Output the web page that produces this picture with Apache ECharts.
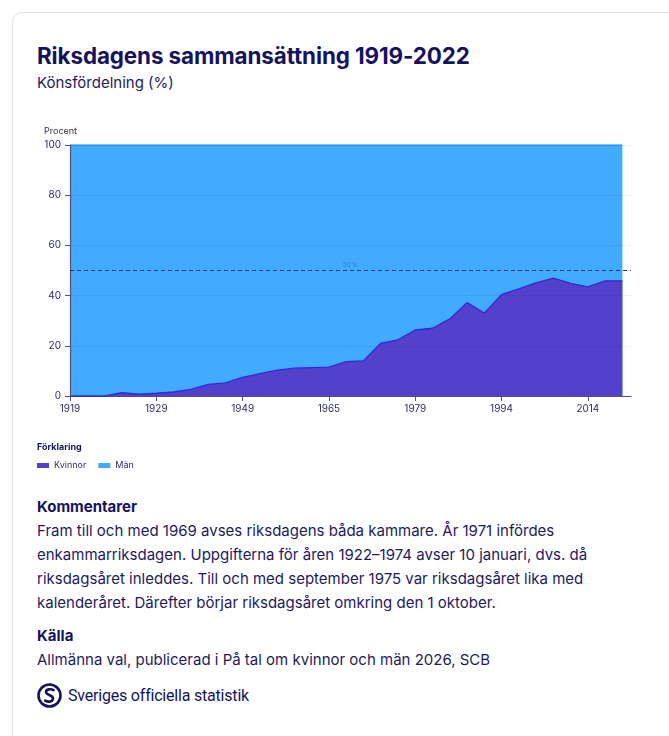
<!DOCTYPE html>
<html>
<head>
<meta charset="utf-8">
<script src="https://cdn.jsdelivr.net/npm/echarts@6/dist/echarts.min.js"></script>
<style>
  html, body { margin:0; padding:0; background:#fff; width:669px; height:736px; overflow:hidden; font-family: Inter, "Noto Sans", sans-serif; color:#1d1b5c; }
  #card { position:absolute; left:12px; top:12px; width:700px; height:760px; border:1px solid #e3e3e8; border-radius:10px; box-sizing:border-box; }
  .abs { position:absolute; white-space:nowrap; }
  #title { left:37px; top:42px; font-size:22.4px; font-weight:700; color:#15135e; letter-spacing:-0.1px; }
  #sub { left:37px; top:73px; font-size:15px; color:#1d1b5c; }
  #chart { position:absolute; left:0; top:110px; width:669px; height:370px; }
  .h { font-size:15px; font-weight:700; color:#15135e; }
  .p { font-size:15px; line-height:24px; color:#1d1b5c; }
  #logo { left:37px; top:683px; display:flex; align-items:center; }
  #logo span { font-family: Roboto, sans-serif; font-size:16px; color:#15135e; margin-left:6px; letter-spacing:-0.2px; }
</style>
</head>
<body>
<div id="card"></div>
<div class="abs" id="title">Riksdagens sammansättning 1919-2022</div>
<div class="abs" id="sub">Könsfördelning (%)</div>
<div id="chart"></div>
<div class="abs h" style="left:37px;top:497px;">Kommentarer</div>
<div class="abs p" style="left:37px;top:519px;">Fram till och med 1969 avses riksdagens båda kammare. År 1971 infördes<br>enkammarriksdagen. Uppgifterna för åren 1922–1974 avser 10 januari, dvs. då<br>riksdagsåret inleddes. Till och med september 1975 var riksdagsåret lika med<br>kalenderåret. Därefter börjar riksdagsåret omkring den 1 oktober.</div>
<div class="abs h" style="left:37px;top:626px;">Källa</div>
<div class="abs p" style="left:37px;top:648px;">Allmänna val, publicerad i På tal om kvinnor och män 2026, SCB</div>
<div class="abs" id="logo">
  <svg width="25" height="25" viewBox="0 0 25 25">
    <circle cx="12.5" cy="12.5" r="11" fill="none" stroke="#15135e" stroke-width="2.6"/>
    <path d="M16.5 7.2 C14 5.6 9 6 9 9 C9 12.5 16 11.5 16 15.5 C16 18.8 11 19.4 8.2 17.6" fill="none" stroke="#15135e" stroke-width="2.6" stroke-linecap="round"/>
  </svg>
  <span>Sveriges officiella statistik</span>
</div>
<script>
const years = ['1919','1920','1921','1922','1925','1929','1933','1937','1941','1945','1949','1953','1957','1959','1961','1965','1969','1971','1974','1976','1979','1982','1985','1988','1991','1994','1998','2002','2006','2010','2014','2018','2022'];
const kvinnor = [0,0,0,1.3,0.7,1.1,1.6,2.6,4.6,5.2,7.4,8.9,10.3,11.1,11.3,11.5,13.7,14.0,21.0,22.4,26.3,27.0,30.7,37.2,33.0,40.4,42.7,45.1,47.0,44.9,43.5,45.9,45.9];
const man = [100,100,100,98.7,99.3,98.9,98.4,97.4,95.4,94.8,92.6,91.1,89.7,88.9,88.7,88.5,86.3,86.0,79.0,77.6,73.7,73.0,69.3,62.8,67.0,59.6,57.3,54.9,53.0,55.1,56.5,54.1,54.1];
const labelIdx = [0,5,10,15,20,25,30];
const seriesNames = ['Kvinnor','Män'];

// stacked top of Män = Kvinnor + Män (area drawn behind Kvinnor)
const manTop = man.map((v,i)=>[i, kvinnor[i]+v]);

const chart = echarts.init(document.getElementById('chart'), null, {renderer:'canvas'});
const axisColor = '#55527e';
const txt = '#2d2b6b';
chart.setOption({
  animation:false,
  textStyle:{fontFamily:'Inter, "Noto Sans", sans-serif'},
  grid:{left:70, right:38, top:35, bottom:84},
  graphic:[
    {type:'text', left:44, top:17, style:{text:'Procent', fontSize:9, fill:'#333', fontFamily:'Inter'}},
    {type:'text', left:37, top:333, style:{text:'Förklaring', fontSize:9, fontWeight:'bold', fill:'#15135e', fontFamily:'Inter'}}
  ],
  legend:{
    left:32, top:346, itemWidth:12, itemHeight:5, itemGap:12, icon:'rect',
    textStyle:{fontSize:9, color:txt},
    data: seriesNames
  },
  xAxis:{
    type:'value', min:0, max:32.5,
    axisLine:{show:true, lineStyle:{color:axisColor, width:1.2}},
    axisTick:{show:true, length:5, customValues:labelIdx, lineStyle:{color:axisColor}},
    axisLabel:{customValues:labelIdx, formatter:v=>years[v], fontSize:10, color:txt, margin:8},
    splitLine:{show:false}
  },
  yAxis:{
    type:'value', min:0, max:100, interval:20, z:3,
    axisLine:{show:true, lineStyle:{color:axisColor, width:1.2}},
    axisTick:{show:true, length:5, lineStyle:{color:axisColor}},
    axisLabel:{fontSize:10, color:txt, margin:9},
    splitLine:{show:true, lineStyle:{color:'rgba(20,20,80,0.07)', width:1}}
  },
  series:[
    {
      name:seriesNames[0], type:'line', showSymbol:false,
      data: kvinnor.map((v,i)=>[i,v]),
      itemStyle:{color:'#5540cc'},
      lineStyle:{color:'#2f2ad6', width:1.3},
      areaStyle:{color:'#5540cc', opacity:1},
      z:2
    },
    {
      name:seriesNames[1], type:'line', showSymbol:false,
      data: manTop,
      itemStyle:{color:'#40abff'},
      lineStyle:{color:'#1f9cff', width:1.3},
      areaStyle:{color:'#40abff', opacity:1},
      z:1,
      markLine:{
        silent:true, symbol:'none',
        lineStyle:{color:'#1c2f6e', type:[4,3], width:1},
        label:{show:true, position:'middle', formatter:'50 %', fontSize:6, color:'#3577c2', distance:2},
        data:[[{coord:[0,50]},{coord:[32.5,50]}]]
      }
    }
  ]
});
</script>
</body>
</html>
